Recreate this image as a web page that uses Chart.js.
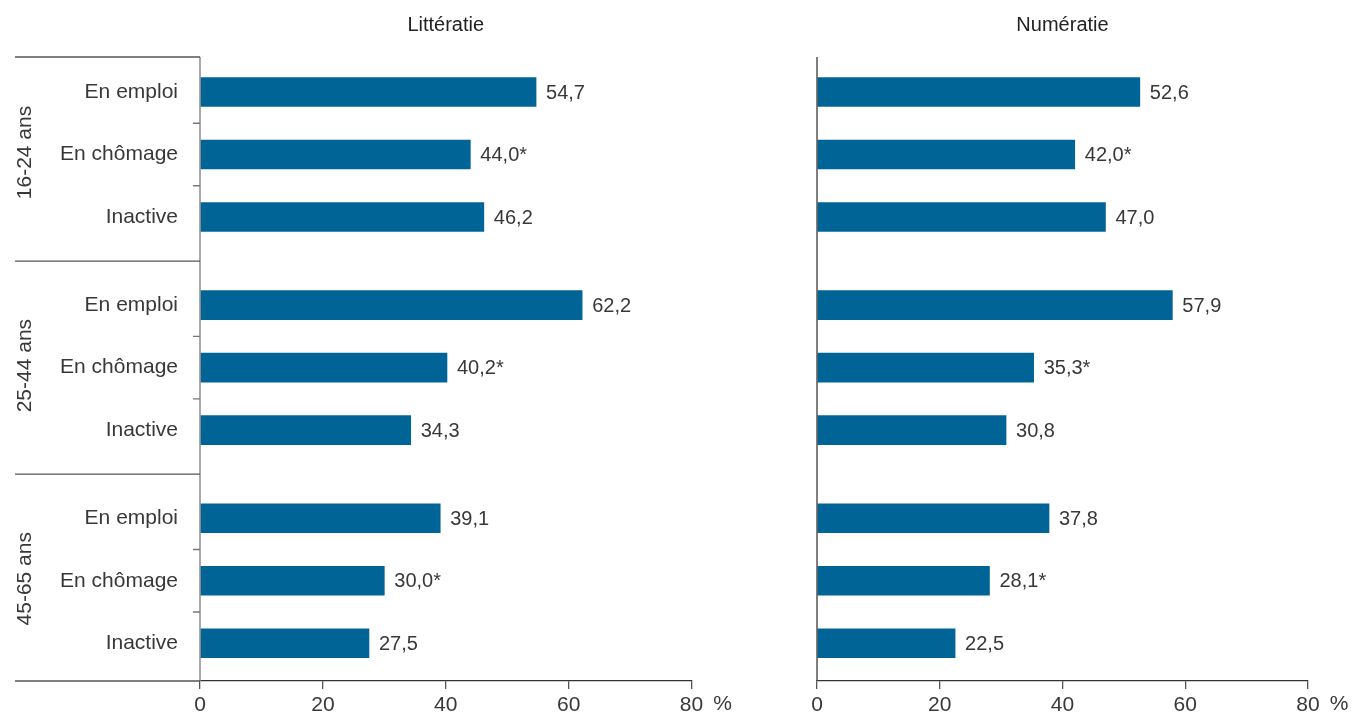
<!DOCTYPE html>
<html lang="fr">
<head>
<meta charset="utf-8">
<title>Littératie et numératie selon l'âge et la situation d'activité</title>
<script src="https://cdn.jsdelivr.net/npm/chart.js@4.4.1/dist/chart.umd.min.js"></script>
<style>
  html, body { margin: 0; padding: 0; background: #fff; }
  #wrap { position: relative; width: 1359px; height: 717px; }
  canvas { position: absolute; top: 0; }
  #chartLit { left: 0; }
  #chartNum { left: 760px; }
</style>
</head>
<body>
<div id="wrap">
  <canvas id="chartLit" width="760" height="717"></canvas>
  <canvas id="chartNum" width="599" height="717"></canvas>
</div>
<script>
// ---- data ----
const ageGroups = ['16-24 ans', '25-44 ans', '45-65 ans'];
const statuses = ['En emploi', 'En chômage', 'Inactive'];
const litteratie = [54.7, 44.0, 46.2, 62.2, 40.2, 34.3, 39.1, 30.0, 27.5];
const numeratie = [52.6, 42.0, 47.0, 57.9, 35.3, 30.8, 37.8, 28.1, 22.5];
// * = estimate flagged in the source table
const flagged = [false, true, false, false, true, false, false, true, false];
const xTicks = [0, 20, 40, 60, 80];

// ---- layout ----
const BAR_COLOR = '#006496';
const TEXT_COLOR = '#383838';
const FONT = '"Liberation Sans", Arial, Helvetica, sans-serif';
const GROUP_STEP = 3.41;   // distance between groups, in row units
const Y_MIN = -0.56;
const Y_MAX = 9.424;

// row position on the linear y scale
function rowPos(idx) {
    const g = Math.floor(idx / statuses.length);
    const i = idx % statuses.length;
    return g * GROUP_STEP + i;
}

function fmt(v) {
    return v.toFixed(1).replace('.', ',');
}

// draws axis decorations, labels and values that the built-in axes don't cover
const decorPlugin = {
    id: 'decor',
    afterDatasetsDraw(chart, args, opts) {
        const ctx = chart.ctx;
        const area = chart.chartArea;
        const y = chart.scales.y;
        const x = chart.scales.x;
        ctx.save();

        // vertical axis line
        ctx.strokeStyle = opts.axisColor;
        ctx.lineWidth = 1.5;
        ctx.beginPath();
        ctx.moveTo(area.left, area.top);
        ctx.lineTo(area.left, area.bottom);
        ctx.stroke();

        if (opts.showCategories) {
            const leftEdge = 15;
            ctx.strokeStyle = '#555';
            ctx.lineWidth = 1.3;
            ctx.beginPath();
            // top rule and bottom axis extension
            ctx.moveTo(leftEdge, area.top); ctx.lineTo(area.left, area.top);
            ctx.moveTo(leftEdge, area.bottom); ctx.lineTo(area.left, area.bottom);
            // separators between age groups
            for (let g = 0; g < ageGroups.length - 1; g++) {
                const py = y.getPixelForValue(g * GROUP_STEP + (statuses.length - 1) + (GROUP_STEP - statuses.length + 1) / 2);
                ctx.moveTo(leftEdge, py); ctx.lineTo(area.left, py);
            }
            ctx.stroke();

            // small ticks between rows inside a group
            ctx.strokeStyle = '#777';
            ctx.beginPath();
            for (let g = 0; g < ageGroups.length; g++) {
                for (let i = 0; i < statuses.length - 1; i++) {
                    const py = y.getPixelForValue(g * GROUP_STEP + i + 0.5);
                    ctx.moveTo(area.left - 7, py); ctx.lineTo(area.left, py);
                }
            }
            ctx.stroke();

            ctx.fillStyle = TEXT_COLOR;
            ctx.font = '21px ' + FONT;
            ctx.textBaseline = 'middle';

            // status labels
            ctx.textAlign = 'right';
            for (let idx = 0; idx < ageGroups.length * statuses.length; idx++) {
                const py = y.getPixelForValue(rowPos(idx));
                ctx.fillText(statuses[idx % statuses.length], area.left - 22, py);
            }

            // rotated age group labels
            ctx.textAlign = 'center';
            ageGroups.forEach((label, g) => {
                const py = y.getPixelForValue(g * GROUP_STEP + 1);
                ctx.save();
                ctx.translate(25, py - 2);
                ctx.rotate(-Math.PI / 2);
                ctx.fillText(label, 0, 0);
                ctx.restore();
            });
        }

        // value labels
        ctx.fillStyle = TEXT_COLOR;
        ctx.font = '20px ' + FONT;
        ctx.textAlign = 'left';
        ctx.textBaseline = 'middle';
        const meta = chart.getDatasetMeta(0);
        const values = chart.data.datasets[0].data;
        meta.data.forEach((bar, idx) => {
            const text = fmt(values[idx].x) + (flagged[idx] ? '*' : '');
            ctx.fillText(text, bar.x + 10, bar.y + 1);
        });

        // panel title
        ctx.fillStyle = '#222';
        ctx.font = '20px ' + FONT;
        ctx.textAlign = 'center';
        ctx.fillText(opts.title, (area.left + area.right) / 2, 25);

        // unit after the last tick
        ctx.fillStyle = TEXT_COLOR;
        ctx.font = '21px ' + FONT;
        ctx.fillText('%', x.getPixelForValue(80) + 31, 704);

        ctx.restore();
    }
};

function buildChart(canvasId, values, opts) {
    return new Chart(document.getElementById(canvasId), {
        type: 'bar',
        data: {
            datasets: [{
                data: values.map((v, idx) => ({ x: v, y: rowPos(idx) })),
                backgroundColor: BAR_COLOR,
                borderWidth: 0,
                barThickness: 29
            }]
        },
        options: {
            indexAxis: 'y',
            responsive: false,
            animation: false,
            layout: { padding: { left: opts.padLeft, right: opts.padRight, top: 57, bottom: 0 } },
            plugins: {
                legend: { display: false },
                tooltip: { enabled: false },
                decor: opts
            },
            scales: {
                y: {
                    type: 'linear',
                    display: false,
                    offset: false,
                    reverse: true,
                    min: Y_MIN,
                    max: Y_MAX
                },
                x: {
                    min: 0,
                    max: 80,
                    afterBuildTicks: s => { s.ticks = xTicks.map(v => ({ value: v })); },
                    afterFit: s => { s.height = 36; },
                    grid: { drawOnChartArea: false, drawTicks: true, tickLength: 8, color: '#555', lineWidth: 1.3 },
                    border: { display: true, color: '#333', width: 1.3 },
                    ticks: { color: TEXT_COLOR, font: { size: 21, family: FONT }, padding: 4 }
                }
            }
        },
        plugins: [decorPlugin]
    });
}

buildChart('chartLit', litteratie, {
    title: 'Littératie', showCategories: true, axisColor: '#8c8c8c', padLeft: 200, padRight: 68.5
});
buildChart('chartNum', numeratie, {
    title: 'Numératie', showCategories: false, axisColor: '#555', padLeft: 57, padRight: 51
});
</script>
</body>
</html>
